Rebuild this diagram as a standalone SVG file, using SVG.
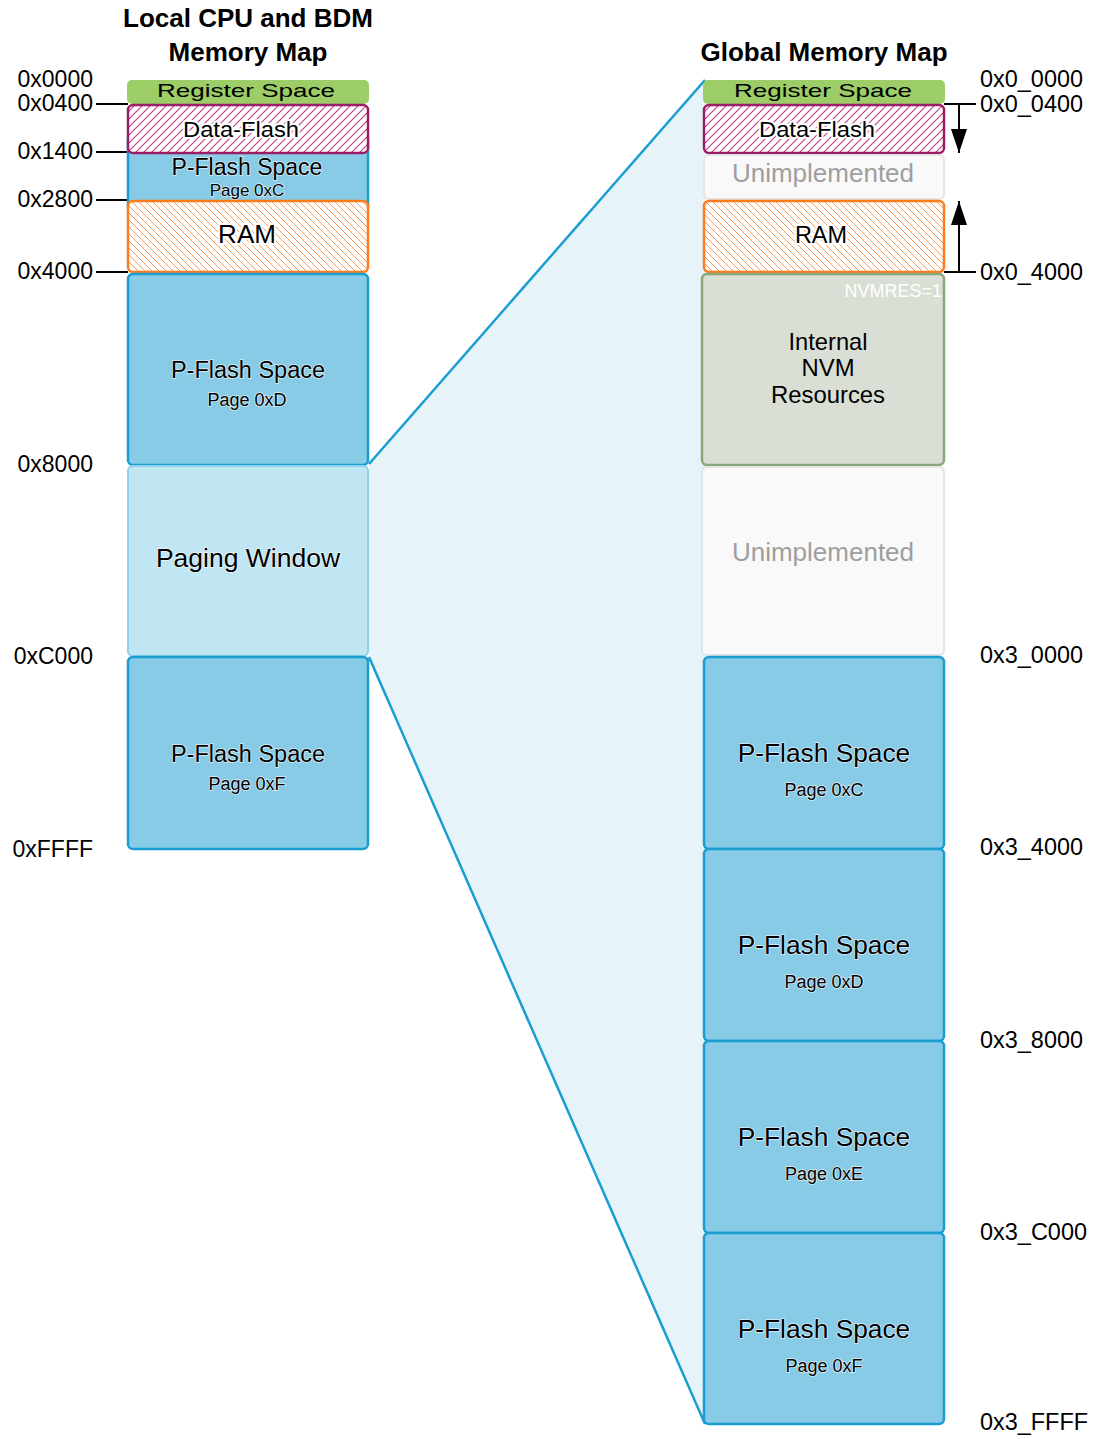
<svg xmlns="http://www.w3.org/2000/svg" width="1095" height="1439" viewBox="0 0 1095 1439">
<style>
text{font-family:"Liberation Sans",Arial,sans-serif;fill:#000}
.hdr{font-weight:bold;font-size:26px;text-anchor:middle}
.addr{font-size:23px;text-anchor:end}
.raddr{font-size:24px}
.ctr{text-anchor:middle}
.reg{fill:#9ccd66}
.pf{fill:#87cbe6;stroke:#1a9dd1;stroke-width:2.5}
.df{fill:url(#hatchDF);stroke:#9c1d65;stroke-width:2.5}
.ram{fill:url(#hatchRAM);stroke:#ff7b1c;stroke-width:2.5}
.unimp{fill:#f9f9f9;stroke:#e4e4e4;stroke-width:2}
.unimpT{fill:#9e9e9e;font-size:26px;text-anchor:middle}
.halo{paint-order:stroke;stroke:#fff;stroke-width:4px;stroke-linejoin:round}
.soft{paint-order:stroke;stroke:#fff;stroke-width:1.5px;stroke-opacity:0.7}
.tick{stroke:#000;stroke-width:2;fill:none}
.conn{stroke:#1a9dd1;stroke-width:2.5;fill:none}
.hdf{stroke:#c2438c;stroke-width:1.2;fill:none}
.hram{stroke:#ff9a52;stroke-width:1;fill:none}
</style>
<defs>
<pattern id="hatchDF" patternUnits="userSpaceOnUse" width="8" height="8">
<rect width="8" height="8" fill="#ffffff"/>
<path class="hdf" d="M-2,2 L2,-2 M0,8 L8,0 M6,10 L10,6"/>
</pattern>
<pattern id="hatchRAM" patternUnits="userSpaceOnUse" width="7" height="7">
<rect width="7" height="7" fill="#ffffff"/>
<path class="hram" d="M-2,5 L2,9 M0,0 L7,7 M5,-2 L9,2"/>
</pattern>
<marker id="ah" viewBox="0 0 10 10" refX="10" refY="5" markerWidth="24" markerHeight="16" markerUnits="userSpaceOnUse" orient="auto" preserveAspectRatio="none">
<path d="M0,0 L10,5 L0,10 Z" fill="#000"/>
</marker>
</defs>

<g id="connectors">
<polygon points="369,464 705,80 705,1424 369,657" fill="#e6f4fa"/>
<line class="conn" x1="369" y1="464" x2="705" y2="80"/>
<line class="conn" x1="369" y1="657" x2="705" y2="1424"/>
<line class="tick" x1="96" y1="104" x2="128" y2="104"/>
<line class="tick" x1="96" y1="152" x2="128" y2="152"/>
<line class="tick" x1="96" y1="200" x2="128" y2="200"/>
<line class="tick" x1="96" y1="272" x2="128" y2="272"/>
<line class="tick" x1="944" y1="104" x2="976" y2="104"/>
<line class="tick" x1="944" y1="272" x2="976" y2="272"/>
<line class="tick" x1="959" y1="104" x2="959" y2="153" marker-end="url(#ah)"/>
<line class="tick" x1="959" y1="272" x2="959" y2="201" marker-end="url(#ah)"/>
</g>

<g id="titles">
<text class="hdr" x="248" y="27">Local CPU and BDM</text>
<text class="hdr" x="248" y="61">Memory Map</text>
<text class="hdr" x="824" y="61">Global Memory Map</text>
</g>

<g id="left-addresses">
<text class="addr" x="93" y="87">0x0000</text>
<text class="addr" x="93" y="111">0x0400</text>
<text class="addr" x="93" y="159">0x1400</text>
<text class="addr" x="93" y="207">0x2800</text>
<text class="addr" x="93" y="279">0x4000</text>
<text class="addr" x="93" y="472">0x8000</text>
<text class="addr" x="93" y="664">0xC000</text>
<text class="addr" x="93" y="857">0xFFFF</text>
</g>

<g id="right-addresses">
<text class="raddr" x="980" y="87" textLength="103" lengthAdjust="spacingAndGlyphs">0x0_0000</text>
<text class="raddr" x="980" y="112" textLength="103" lengthAdjust="spacingAndGlyphs">0x0_0400</text>
<text class="raddr" x="980" y="280" textLength="103" lengthAdjust="spacingAndGlyphs">0x0_4000</text>
<text class="raddr" x="980" y="663" textLength="103" lengthAdjust="spacingAndGlyphs">0x3_0000</text>
<text class="raddr" x="980" y="855" textLength="103" lengthAdjust="spacingAndGlyphs">0x3_4000</text>
<text class="raddr" x="980" y="1048" textLength="103" lengthAdjust="spacingAndGlyphs">0x3_8000</text>
<text class="raddr" x="980" y="1240" textLength="107" lengthAdjust="spacingAndGlyphs">0x3_C000</text>
<text class="raddr" x="980" y="1430" textLength="108" lengthAdjust="spacingAndGlyphs">0x3_FFFF</text>
</g>

<!-- Left column -->
<g id="L-register">
<rect class="reg" x="127" y="80" width="242" height="24" rx="5"/>
<text x="246" y="97" class="ctr" font-size="19" textLength="178" lengthAdjust="spacingAndGlyphs">Register Space</text>
</g>
<g id="L-pflash-c">
<rect class="pf" x="128" y="140" width="240" height="68" rx="0"/>
<text x="247" y="175" class="ctr soft" font-size="23">P-Flash Space</text>
<text x="247" y="196" class="ctr soft" font-size="17">Page 0xC</text>
</g>
<g id="L-dataflash">
<rect class="df" x="128" y="105" width="240" height="48" rx="5"/>
<text x="241" y="137" class="ctr halo" font-size="22" textLength="116" lengthAdjust="spacingAndGlyphs">Data-Flash</text>
</g>
<g id="L-ram">
<rect class="ram" x="128" y="201" width="240" height="71" rx="5"/>
<text x="247" y="243" class="ctr halo" font-size="26">RAM</text>
</g>
<g id="L-pflash-d">
<rect class="pf" x="128" y="274" width="240" height="191" rx="5"/>
<text x="248" y="378" class="ctr soft" font-size="23.5">P-Flash Space</text>
<text x="247" y="406" class="ctr soft" font-size="18">Page 0xD</text>
</g>
<g id="L-paging">
<rect x="128" y="466" width="240" height="190" rx="5" fill="#c0e5f3" stroke="#8fd0ea" stroke-width="2"/>
<text x="248" y="567" class="ctr soft" font-size="26.5">Paging Window</text>
</g>
<g id="L-pflash-f">
<rect class="pf" x="128" y="657" width="240" height="192" rx="5"/>
<text x="248" y="762" class="ctr soft" font-size="23.5">P-Flash Space</text>
<text x="247" y="790" class="ctr soft" font-size="18">Page 0xF</text>
</g>

<!-- Right column -->
<g id="R-register">
<rect class="reg" x="703" y="80" width="242" height="24" rx="5"/>
<text x="823" y="97" class="ctr" font-size="19" textLength="178" lengthAdjust="spacingAndGlyphs">Register Space</text>
</g>
<g id="R-dataflash">
<rect class="df" x="704" y="105" width="240" height="48" rx="5"/>
<text x="817" y="137" class="ctr halo" font-size="22" textLength="116" lengthAdjust="spacingAndGlyphs">Data-Flash</text>
</g>
<g id="R-unimp1">
<rect class="unimp" x="704" y="155" width="240" height="44" rx="5"/>
<text x="823" y="182" class="unimpT">Unimplemented</text>
</g>
<g id="R-ram">
<rect class="ram" x="704" y="201" width="240" height="71" rx="5"/>
<text x="821" y="243" class="ctr halo" font-size="23.5">RAM</text>
</g>
<g id="R-nvm">
<rect x="702" y="274" width="242" height="191" rx="5" fill="#d9dfd4" stroke="#88a877" stroke-width="2.5"/>
<text x="942" y="297" font-size="18" text-anchor="end" style="fill:#fff">NVMRES=1</text>
<text x="828" y="350" class="ctr" font-size="24" textLength="79" lengthAdjust="spacingAndGlyphs">Internal</text>
<text x="828" y="376" class="ctr" font-size="24" textLength="53" lengthAdjust="spacingAndGlyphs">NVM</text>
<text x="828" y="403" class="ctr" font-size="24" textLength="114" lengthAdjust="spacingAndGlyphs">Resources</text>
</g>
<g id="R-unimp2">
<rect class="unimp" x="702" y="467" width="242" height="188" rx="5"/>
<text x="823" y="561" class="unimpT">Unimplemented</text>
</g>
<g id="R-pflash-c">
<rect class="pf" x="704" y="657" width="240" height="192" rx="5"/>
<text x="824" y="762" class="ctr soft" font-size="26.3">P-Flash Space</text>
<text x="824" y="796" class="ctr soft" font-size="18">Page 0xC</text>
</g>
<g id="R-pflash-d">
<rect class="pf" x="704" y="849" width="240" height="192" rx="5"/>
<text x="824" y="954" class="ctr soft" font-size="26.3">P-Flash Space</text>
<text x="824" y="988" class="ctr soft" font-size="18">Page 0xD</text>
</g>
<g id="R-pflash-e">
<rect class="pf" x="704" y="1041" width="240" height="192" rx="5"/>
<text x="824" y="1146" class="ctr soft" font-size="26.3">P-Flash Space</text>
<text x="824" y="1180" class="ctr soft" font-size="18">Page 0xE</text>
</g>
<g id="R-pflash-f">
<rect class="pf" x="704" y="1233" width="240" height="191" rx="5"/>
<text x="824" y="1338" class="ctr soft" font-size="26.3">P-Flash Space</text>
<text x="824" y="1372" class="ctr soft" font-size="18">Page 0xF</text>
</g>
</svg>
